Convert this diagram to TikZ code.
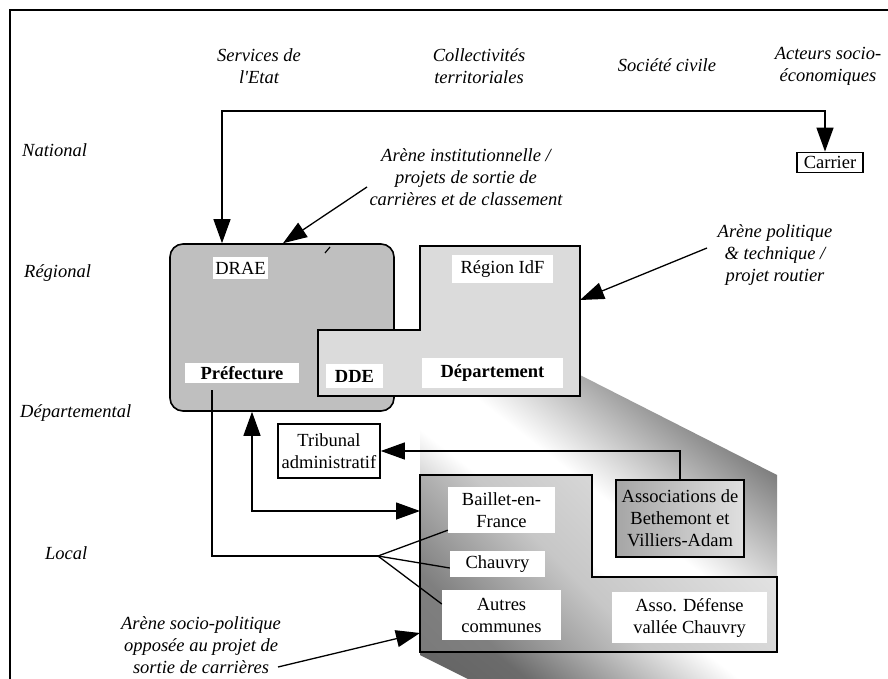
\documentclass[tikz,border=0pt]{standalone}
\usepackage{fontspec}
\setmainfont{Liberation Serif}
\usetikzlibrary{arrows.meta}
\pgfdeclareverticalshading{shadowsh}{100bp}{color(0bp)=(black!66); color(25bp)=(black!58); color(45bp)=(white); color(54bp)=(white); color(75bp)=(black!56); color(100bp)=(black!62)}
\pgfdeclareverticalshading{lowsh}{100bp}{color(0bp)=(black!55); color(25bp)=(black!50); color(45bp)=(black!22); color(75bp)=(black!10); color(100bp)=(black!8)}
\begin{document}
\begin{tikzpicture}[x=1pt,y=-1pt,
  txt/.style={font=\fontsize{18.5}{22}\selectfont, align=center, inner sep=0pt},
  itx/.style={font=\fontsize{18.5}{22}\selectfont\itshape, align=center, inner sep=0pt},
  wlab/.style={txt, fill=white},
  blab/.style={wlab, font=\fontsize{18.5}{22}\selectfont\bfseries},
  conn/.style={line width=1.3pt},
  tipA/.tip={Triangle[length=24pt,width=17pt]},
  arr/.style={conn,-tipA},
  darr/.style={conn,tipA-tipA},
  boxline/.style={line width=1.6pt},
]
\useasboundingbox (0,0) rectangle (888,679);
\fill[white] (0,0) rectangle (888,679);

% frame
\draw[line width=2pt] (10,690) -- (10,10) -- (895,10);

% shadow of the department block
\shade[shading=shadowsh, shading angle=-38]
  (420,396) -- (580,396) -- (580,375) -- (777,475) -- (777,679) -- (468,679) -- (420,655) -- cycle;

% DRAE / Prefecture box
\node[draw, boxline, fill=gray!50, rounded corners=13pt, minimum width=224, minimum height=167, inner sep=0pt] (drae) at (282,327.5) {};
\draw[line width=1.2pt] (325,253) -- (330,247);

% Region / Departement L-shape
\draw[boxline, fill=gray!28] (420,246) -- (580,246) -- (580,396) -- (318,396) -- (318,330) -- (420,330) -- cycle;
\coordinate (regE) at (580,300);

% local L-shape
\shade[shading=lowsh, shading angle=-45]
  (420,475) -- (592,475) -- (592,577) -- (777,577) -- (777,652) -- (420,652) -- cycle;
\draw[boxline]
  (420,475) -- (592,475) -- (592,577) -- (777,577) -- (777,652) -- (420,652) -- cycle;
\coordinate (lowA) at (420,511);
\coordinate (lowB) at (420,633);

% labels in boxes
\node[wlab, minimum width=55, minimum height=22] (draelab) at (240.5,268) {DRAE};
\node[blab, minimum width=114, minimum height=20] (pref) at (242,373) {Préfecture};
\node[wlab, minimum width=101, minimum height=28] (reg) at (502.5,269) {Région IdF};
\node[blab, minimum width=57, minimum height=24] (dde) at (354.5,376) {DDE};
\node[blab, minimum width=141, minimum height=30] (dep) at (492.5,373) {Département};

\node[wlab, minimum width=107, minimum height=46] (bail) at (501.5,510) {Baillet-en-\\France};
\node[wlab, minimum width=95, minimum height=26] (chv) at (497.5,564) {Chauvry};
\node[wlab, minimum width=119, minimum height=50] (aut) at (501.5,615) {Autres\\communes};
\node[wlab, minimum width=155, minimum height=51] (adv) at (689.5,617.5) {Asso. Défense\\vallée Chauvry};

\node[draw, boxline, left color=gray!70, right color=gray!25, txt, minimum width=128, minimum height=77] (assoc) at (680,518.5) {Associations de\\Bethemont et\\Villiers-Adam};
\node[draw, boxline, fill=white, txt, minimum width=102, minimum height=54] (trib) at (329,451) {Tribunal\\administratif};
\node[draw, line width=1.8pt, txt, minimum width=66, minimum height=20] (carrier) at (830,162.5) {Carrier};

% headers
\node[itx] (h1) at (259,66) {Services de\\l\textquotesingle Etat};
\node[itx] (h2) at (479,66) {Collectivités\\territoriales};
\node[itx] (h3) at (667,65) {Société civile};
\node[itx] (h4) at (828,66) {Acteurs socio-\\économiques};

% row labels
\node[itx, anchor=west] (r1) at (22,150) {National};
\node[itx, anchor=west] (r2) at (24,273) {Régional};
\node[itx, anchor=west] (r3) at (20,413) {Départemental};
\node[itx, anchor=west] (r4) at (45,553) {Local};

% arenas
\node[itx] (ainst) at (466,177) {Arène institutionnelle /\\projets de sortie de\\carrières et de classement};
\node[itx] (apol) at (775,255) {Arène politique\\\& technique /\\projet routier};
\node[itx] (asoc) at (201,645) {Arène socio-politique\\opposée au projet de\\sortie de carrières};

% connectors
\coordinate (tl) at (222,111);
\coordinate (tr) at (825,111);
\draw[darr] (drae.north -| tl) -- (tl) -- (tr) -- (carrier.north -| tr);

\coordinate (ai) at (367,187);
\draw[arr] (ai) -- ([xshift=1pt]drae.north);

\coordinate (ap) at (707,248);
\draw[arr] (ap) -- (regE);

\coordinate (pv) at (212,556);
\coordinate (fan) at (378,556);
\draw[conn, shorten <=7pt] (pref.south -| pv) -- (pv) -- (fan);
\draw[conn] (fan) -- ([yshift=3pt]bail.south west);
\draw[conn] (fan) -- ([yshift=-4pt]chv.west);
\draw[conn] (fan) -- ([yshift=11pt]aut.west);

\coordinate (dv) at (252,511);
\draw[darr] (drae.south -| dv) -- (dv) -- (lowA);

\draw[arr] (assoc.north) |- (trib.east);

\coordinate (sp) at (278,667);
\draw[arr] (sp) -- (lowB);
\end{tikzpicture}
\end{document}
